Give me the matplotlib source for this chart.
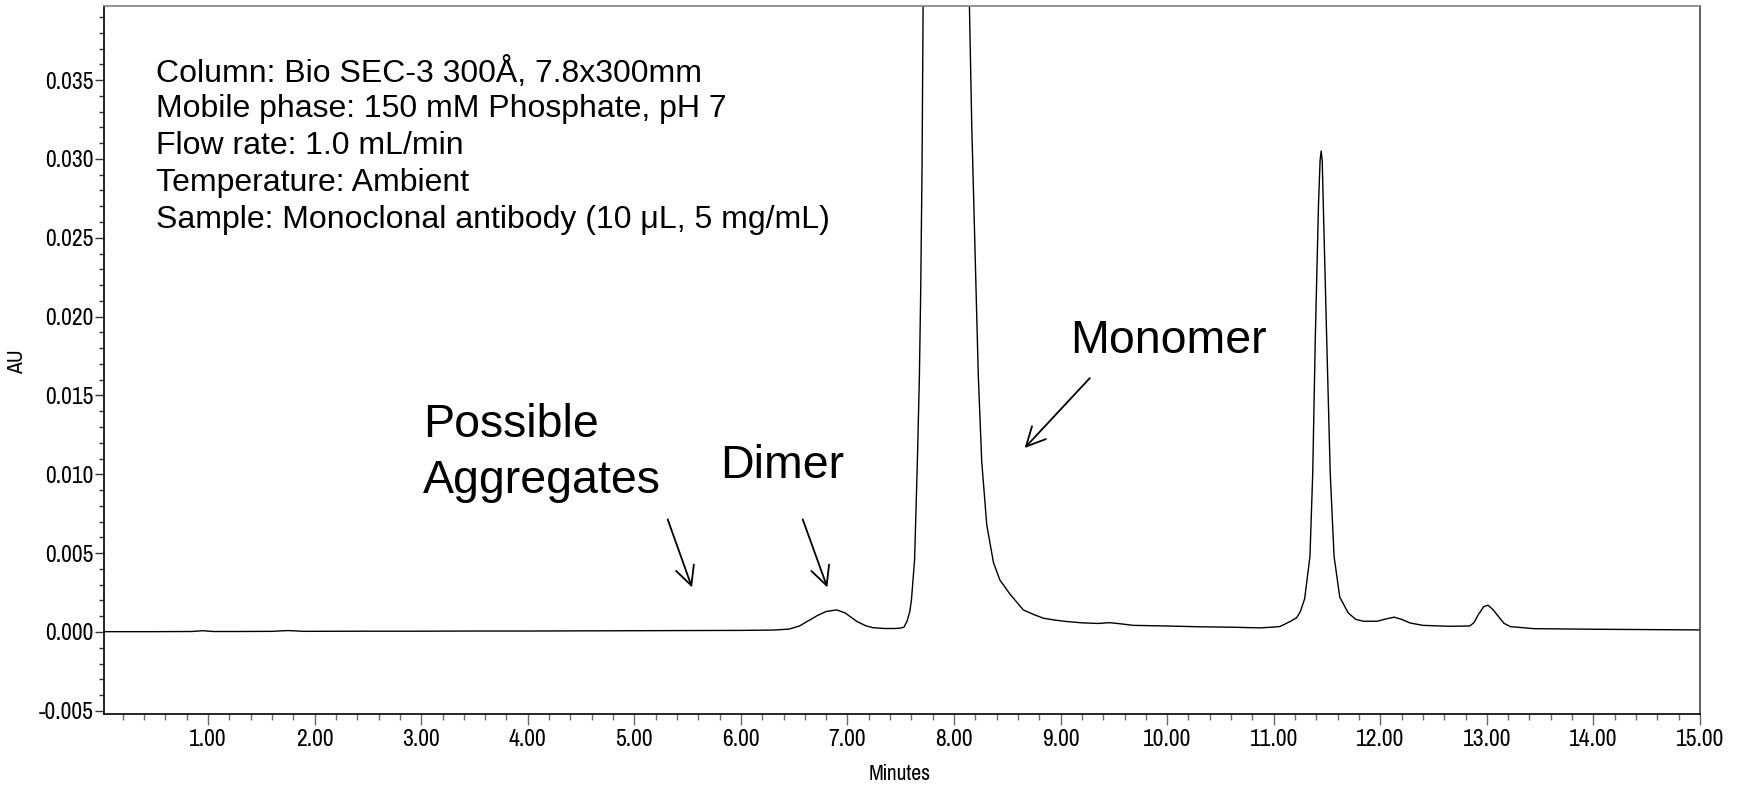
import matplotlib
matplotlib.use("Agg")
import matplotlib.pyplot as plt
from matplotlib import font_manager as fm
from matplotlib.ticker import MultipleLocator, FixedLocator

# Narrow sans for the axis text, regular sans for the annotations
installed = {f.name for f in fm.fontManager.ttflist}
narrow_candidates = ['Liberation Sans Narrow', 'Arial Narrow', 'Pragati Narrow',
                     'Archivo Narrow', 'PT Sans Narrow', 'Roboto Condensed']
narrow = [n for n in narrow_candidates if n in installed][:1]
narrow_font = narrow + ['Liberation Sans', 'DejaVu Sans']
regular_font = ['Liberation Sans', 'DejaVu Sans']
plt.rcParams['font.family'] = narrow_font

# Chromatogram trace: retention time (min) and absorbance (AU)
time_min = [
    0.02, 0.5, 0.85, 0.95, 1.05, 1.3, 1.6, 1.75, 1.9, 2.5, 3.0, 3.5, 4.0, 4.5,
    5.0, 5.5, 6.0, 6.3, 6.45, 6.55, 6.62, 6.72, 6.80, 6.90, 6.98, 7.09, 7.17,
    7.24, 7.35, 7.45, 7.49, 7.53, 7.56, 7.585, 7.60, 7.63, 7.656, 7.675, 7.687,
    7.70, 7.71, 7.78, 7.93, 8.08, 8.144, 8.166, 8.197, 8.228, 8.26, 8.307,
    8.37, 8.43, 8.525, 8.65, 8.75, 8.84, 8.95, 9.06, 9.2, 9.35, 9.46, 9.56,
    9.68, 9.99, 10.3, 10.62, 10.87, 11.0, 11.06, 11.15, 11.215, 11.25, 11.29,
    11.34, 11.366, 11.39, 11.42, 11.435, 11.445, 11.455, 11.465, 11.497,
    11.53, 11.566, 11.62, 11.70, 11.77, 11.84, 11.97, 12.05, 12.13, 12.2,
    12.28, 12.40, 12.65, 12.84, 12.88, 12.92, 12.97, 13.01, 13.06, 13.11,
    13.16, 13.22, 13.44, 14.06, 15.0,
]
absorbance_au = [
    0.00002, 0.00002, 0.00003, 0.00008, 0.00003, 0.00003, 0.00004, 0.00009,
    0.00004, 0.00005, 0.00005, 0.00006, 0.00006, 0.00007, 0.00008, 0.00009,
    0.00010, 0.00012, 0.00018, 0.00038, 0.00066, 0.00105, 0.00130, 0.00140,
    0.00120, 0.00066, 0.00040, 0.00027, 0.00022, 0.00022, 0.00024, 0.00030,
    0.00070, 0.00130, 0.00200, 0.00460, 0.01080, 0.01620, 0.02150, 0.02960,
    0.03990, 0.12000, 0.26000, 0.12000, 0.03990, 0.03220, 0.02420, 0.01620,
    0.01080, 0.00680, 0.00440, 0.00330, 0.00240, 0.00140, 0.00110, 0.00087,
    0.00075, 0.00066, 0.00058, 0.00054, 0.00059, 0.00052, 0.00042, 0.00038,
    0.00033, 0.00030, 0.00026, 0.00031, 0.00035, 0.00065, 0.00090, 0.00130,
    0.00210, 0.00480, 0.01010, 0.01860, 0.02710, 0.02990, 0.03050, 0.02990,
    0.02710, 0.01860, 0.01010, 0.00480, 0.00220, 0.00120, 0.00080, 0.00068,
    0.00068, 0.00082, 0.00094, 0.00080, 0.00057, 0.00042, 0.00036, 0.00038,
    0.00060, 0.00110, 0.00160, 0.00170, 0.00140, 0.00097, 0.00055, 0.00034,
    0.00021, 0.00017, 0.00013,
]

x_ticks = [1, 2, 3, 4, 5, 6, 7, 8, 9, 10, 11, 12, 13, 14, 15]
y_ticks = [-0.005, 0.000, 0.005, 0.010, 0.015, 0.020, 0.025, 0.030, 0.035]

method_lines = [
    "Column: Bio SEC-3 300Å, 7.8x300mm",
    "Mobile phase: 150 mM Phosphate, pH 7",
    "Flow rate: 1.0 mL/min",
    "Temperature: Ambient",
    "Sample: Monoclonal antibody (10 μL, 5 mg/mL)",
]

fig = plt.figure(figsize=(17.37, 7.87), dpi=100)
ax = fig.add_axes([0.0599, 0.0928, 0.9188, 0.8996])

ax.plot(time_min, absorbance_au, color='black', lw=1.0)

ax.set_xlim(0.024, 15.0)
ax.set_ylim(-0.0052, 0.0397)

ax.xaxis.set_major_locator(FixedLocator(x_ticks))
ax.xaxis.set_minor_locator(MultipleLocator(0.2))
ax.yaxis.set_major_locator(FixedLocator(y_ticks))
ax.yaxis.set_minor_locator(MultipleLocator(0.001))
ax.set_xticklabels([f"{t:.2f}" for t in x_ticks])
ax.set_yticklabels([f"{v:.3f}" for v in y_ticks])

ax.tick_params(axis='both', which='major', labelsize=18.5, direction='out')
ax.tick_params(axis='x', which='major', length=8, width=1.0, color='#666666', pad=3)
ax.tick_params(axis='x', which='minor', length=4.5, width=1.0, color='#666666')
ax.tick_params(axis='y', which='major', length=6.5, width=1.0, color='#333333', pad=1)
ax.tick_params(axis='y', which='minor', length=3.5, width=1.0, color='#333333')

ax.spines['left'].set_color('black')
ax.spines['bottom'].set_color('black')
ax.spines['top'].set_color('#808080')
ax.spines['right'].set_color('#444444')
for s in ax.spines.values():
    s.set_linewidth(1.2)

ax.set_xlabel("Minutes", fontsize=17)
ax.set_ylabel("AU", fontsize=17)
ax.xaxis.set_label_coords(0.4987, -0.071)
ax.yaxis.set_label_coords(-0.048, 0.497)

# Method conditions block
info_baselines = [0.03489, 0.03264, 0.03031, 0.02798, 0.02560]
for line, yb in zip(method_lines, info_baselines):
    ax.text(0.51, yb, line, fontsize=23, family=regular_font, va='baseline', ha='left')

arrow_style = dict(arrowstyle='->', color='black', lw=1.3, mutation_scale=34)

ax.text(3.017, 0.01238, "Possible", fontsize=33.5, family=regular_font, va='baseline')
ax.text(3.017, 0.00879, "Aggregates", fontsize=33.5, family=regular_font, va='baseline')
ax.annotate("", xy=(5.55, 0.00266), xytext=(5.304, 0.00731), arrowprops=arrow_style)

ax.text(5.804, 0.00975, "Dimer", fontsize=33.5, family=regular_font, va='baseline')
ax.annotate("", xy=(6.82, 0.00266), xytext=(6.571, 0.00731), arrowprops=arrow_style)

ax.text(9.09, 0.01771, "Monomer", fontsize=33.5, family=regular_font, va='baseline')
ax.annotate("", xy=(8.645, 0.01154), xytext=(9.292, 0.01623), arrowprops=arrow_style)

fig.savefig("out.png", dpi=100)
